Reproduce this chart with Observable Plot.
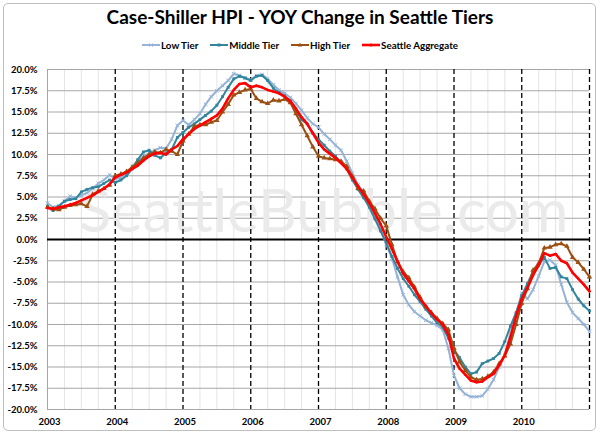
<!DOCTYPE html>
<html><head><meta charset="utf-8">
<script src="https://cdn.jsdelivr.net/npm/d3@7"></script>
<script src="https://cdn.jsdelivr.net/npm/@observablehq/plot@0.6"></script>
<style>
body{margin:0;background:#fff;}
#wrap{position:relative;width:600px;height:436px;overflow:hidden;font-family:Lato,"Open Sans",sans-serif;background:#fff;}
#border{position:absolute;left:3px;top:3px;width:591px;height:426px;border:1.5px solid #BEBEBE;border-radius:5px;pointer-events:none;}
#title{position:absolute;top:4px;left:0;width:600px;text-align:center;font-weight:bold;font-size:19px;line-height:26px;color:#000;}
#legend{position:absolute;top:39px;left:0;width:600px;display:flex;justify-content:center;gap:12px;font-weight:bold;font-size:9.8px;line-height:12px;}
#legend .item{display:flex;align-items:center;gap:1px;}
#chart{position:absolute;top:55px;left:0;}
</style></head><body>
<div id="wrap">
  <div id="title">Case-Shiller HPI - YOY Change in Seattle Tiers</div>
  <div id="legend"></div>
  <div id="chart"></div>
  <div id="border"></div>
</div>
<script>
const startYear = 2003;
const years = [2003, 2004, 2005, 2006, 2007, 2008, 2009, 2010];
const endYear = 2011;
const yTicks = [-20, -17.5, -15, -12.5, -10, -7.5, -5, -2.5, 0, 2.5, 5, 7.5, 10, 12.5, 15, 17.5, 20];
const seriesNames = ["Low Tier", "Middle Tier", "High Tier", "Seattle Aggregate"];

const lowTier = [
  4.3, 3.8, 4.0, 4.5, 5.1, 4.9, 5.2, 5.5, 6.0, 6.6, 7.0, 7.6,
  7.1, 7.3, 7.8, 8.6, 9.3, 9.7, 10.2, 10.5, 10.8, 10.7, 11.8, 13.4,
  14.0, 13.5, 14.1, 14.8, 15.9, 16.8, 17.5, 18.1, 18.7, 19.5, 19.3, 19.0,
  18.8, 19.3, 19.4, 18.9, 18.2, 17.6, 17.2, 16.7, 16.0, 15.2, 14.3, 13.6,
  13.2, 12.4, 11.8, 11.1, 10.5, 9.2, 7.8, 6.4, 5.5, 4.2, 2.9, 1.1,
  -0.5, -2.2, -4.4, -6.5, -7.7, -8.5, -9.0, -9.5, -9.8, -10.1, -10.6, -12.8,
  -16.0, -17.5, -18.2, -18.5, -18.5, -18.4, -17.6, -16.5, -15.0, -13.6, -11.0, -8.8,
  -6.3, -7.0, -5.9, -4.3, -2.6, -2.4, -3.0, -5.3, -7.4, -8.6, -9.3, -10.0,
  -10.8
];
const middleTier = [
  3.9, 3.4, 3.9, 4.5, 4.7, 4.8, 5.6, 5.9, 6.1, 6.2, 6.6, 7.0,
  6.7, 7.0, 7.5, 8.3, 9.4, 10.3, 10.5, 9.9, 9.6, 10.2, 10.6, 12.0,
  12.6, 13.2, 13.6, 14.1, 14.6, 15.1, 15.8, 16.8, 17.9, 18.9, 19.2, 19.0,
  18.7, 19.2, 19.3, 18.7, 17.8, 17.3, 16.9, 16.3, 15.2, 14.1, 13.6, 12.5,
  11.8, 11.1, 10.4, 9.8, 9.1, 8.3, 7.0, 5.9, 4.9, 3.8, 2.4, 1.0,
  -0.4, -2.0, -3.4, -4.6, -5.5, -6.5, -7.3, -8.2, -9.0, -9.8, -10.3, -11.6,
  -13.0, -13.9, -15.0, -15.8, -15.6, -14.6, -14.3, -14.0, -13.4, -12.0, -10.2, -8.6,
  -6.6, -5.2, -3.8, -3.0, -2.1, -3.4, -3.3, -4.4, -4.6, -5.9, -7.0, -7.8,
  -8.4
];
const highTier = [
  3.8, 3.6, 3.5, 3.8, 4.0, 4.1, 4.2, 3.9, 5.3, 5.7, 6.0, 6.4,
  7.5, 7.7, 8.0, 8.5, 9.0, 9.6, 10.0, 10.3, 10.2, 10.6, 10.4, 10.0,
  11.6, 12.4, 13.3, 13.5, 13.5, 13.8, 14.0, 15.0, 15.9, 17.0, 17.3, 17.6,
  17.7, 16.6, 16.2, 16.0, 16.4, 16.3, 16.5, 16.1, 14.8, 13.5, 12.2, 10.9,
  9.8, 9.6, 9.5, 9.4, 9.2, 8.6, 7.4, 6.0, 5.7, 4.5, 3.6, 2.5,
  1.6, -0.6, -2.6, -3.8, -4.5, -5.6, -6.8, -7.9, -8.6, -9.3, -9.9, -10.6,
  -12.8, -14.4, -15.4, -16.2, -16.5, -16.4, -16.1, -15.6, -14.6, -13.7, -12.3, -10.0,
  -7.5, -5.8, -3.6, -2.8, -1.0, -0.9, -0.6, -0.5, -0.8, -2.1, -2.7, -3.5,
  -4.4
];
const seattleAggregate = [
  3.7, 3.6, 3.8, 3.9, 4.1, 4.3, 4.6, 4.9, 5.2, 5.6, 6.0, 6.5,
  7.3, 7.6, 7.9, 8.3, 8.7, 9.3, 9.8, 10.1, 10.2, 10.0, 10.6, 11.0,
  11.8, 12.4, 13.0, 13.4, 13.8, 14.2, 14.6, 15.4, 16.6, 17.6, 18.3, 18.4,
  17.9, 18.1, 17.9, 17.6, 17.4, 17.2, 16.8, 16.3, 15.4, 14.4, 13.6, 12.5,
  11.4, 10.6, 10.1, 9.6, 9.0, 8.3, 7.3, 6.3, 5.3, 4.3, 3.1, 1.8,
  0.3, -1.1, -2.6, -4.0, -4.9, -5.8, -7.0, -7.8, -8.7, -9.4, -10.0, -11.2,
  -14.0, -15.2, -15.9, -16.6, -16.8, -16.7, -16.2, -15.8, -14.8, -13.6, -11.5, -9.0,
  -7.0, -5.7, -4.2, -3.0, -1.6, -1.9, -1.7, -2.5, -2.8, -3.9, -4.6, -5.3,
  -6.1
];

const styles = [
  {values: lowTier, color: "#95B3D7", width: 2, symbol: "times", r: 1.8},
  {values: middleTier, color: "#31859C", width: 2, symbol: "square", r: 1.6},
  {values: highTier, color: "#9A5012", width: 2, symbol: "triangle", r: 2},
  {values: seattleAggregate, color: "#FF0000", width: 2.6, symbol: "circle", r: 1.2}
];

const toRows = (vals) => vals.map((v, i) => ({x: startYear + i / 12, y: v}));
const quarters = years.flatMap(y => [y + 0.25, y + 0.5, y + 0.75]);
const fmtPct = d => d.toFixed(1) + "%";

// legend
const legend = document.getElementById("legend");
seriesNames.forEach((name, i) => {
  const s = styles[i];
  const item = document.createElement("div");
  item.className = "item";
  let mk;
  if (s.symbol === "square") mk = `<rect x="7.5" y="2.5" width="3" height="3" fill="${s.color}"/>`;
  else if (s.symbol === "triangle") mk = `<path d="M9,1.8 L11.2,5.6 L6.8,5.6Z" fill="${s.color}"/>`;
  else if (s.symbol === "times") mk = `<path d="M7.4,2.4 L10.6,5.6 M10.6,2.4 L7.4,5.6" stroke="${s.color}" stroke-width="1"/>`;
  else mk = `<circle cx="9" cy="4" r="1.6" fill="${s.color}"/>`;
  item.innerHTML = `<svg width="18" height="8"><line x1="0" y1="4" x2="18" y2="4" stroke="${s.color}" stroke-width="${s.width}"/>${mk}</svg><span>${name}</span>`;
  legend.appendChild(item);
});

const lineMarks = styles.flatMap(s => [
  Plot.line(toRows(s.values), {x: "x", y: "y", stroke: s.color, strokeWidth: s.width, strokeLinejoin: "round"}),
  Plot.dot(toRows(s.values), {x: "x", y: "y", symbol: () => s.symbol, r: s.r,
    fill: s.symbol === "times" ? "none" : s.color, stroke: s.color, strokeWidth: s.symbol === "times" ? 1 : 0})
]);

const chart = Plot.plot({
  width: 600,
  height: 381,
  marginTop: 14,
  marginBottom: 27,
  marginLeft: 47,
  marginRight: 11,
  x: {domain: [startYear, endYear], label: null},
  y: {domain: [-20, 20], label: null},
  style: {fontFamily: "Lato, 'Open Sans', sans-serif", fontWeight: "bold", fontSize: "9.5px", color: "#000", background: "transparent"},
  marks: [
    Plot.ruleX(quarters, {stroke: "#E4E4E4", strokeWidth: 1}),
    Plot.ruleY(yTicks, {stroke: "#A6A6A6", strokeWidth: 1}),
    Plot.text(["SeattleBubble.com"], {frameAnchor: "middle", dx: 5, dy: -27, fontSize: 60, fontWeight: "normal", fill: "#EAEAEA"}),
    Plot.ruleX(years.slice(1).concat([endYear]), {stroke: "#000", strokeWidth: 1.3, strokeDasharray: "5,3"}),
    Plot.ruleX([startYear], {stroke: "#A6A6A6", strokeWidth: 1}),
    Plot.ruleY([0], {stroke: "#000", strokeWidth: 2}),
    ...lineMarks,
    Plot.axisY(yTicks, {tickSize: 0, tickPadding: 10, tickFormat: fmtPct, fontWeight: "bold", label: null}),
    Plot.axisX(years, {tickSize: 0, tickPadding: 9, dx: 2, tickFormat: d => String(d), fontWeight: "bold", label: null})
  ]
});
document.getElementById("chart").appendChild(chart);
</script>
</body></html>
